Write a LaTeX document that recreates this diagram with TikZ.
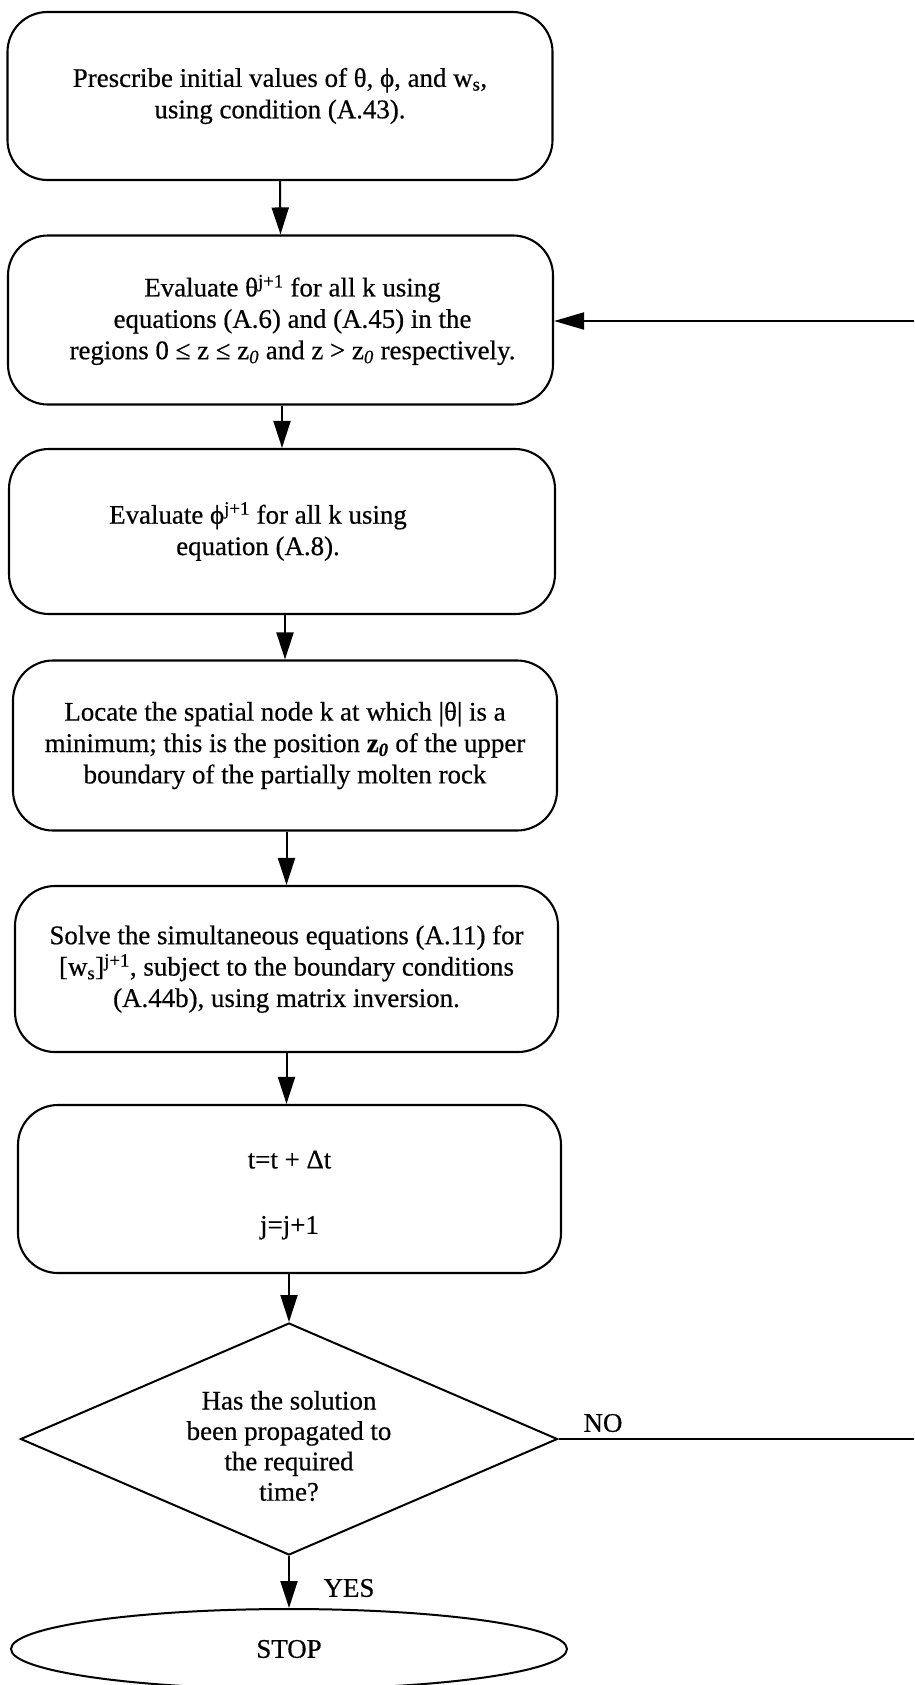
\documentclass[tikz,border=0pt]{standalone}
\usepackage{fontspec}
\setmainfont{Liberation Serif}[FakeBold=0.5]
\usetikzlibrary{arrows.meta,shapes.geometric}
\begin{document}
\begin{tikzpicture}[x=1bp,y=-1bp,
  every node/.style={font=\fontsize{27}{31.5}\selectfont},
  stepbox/.style={draw, line width=2.1bp, rounded corners=40bp, align=center, inner sep=0pt},
  flow/.style={line width=2bp, -{Triangle[length=27bp,width=17bp]}},
  backflow/.style={line width=2bp, -{Triangle[length=30bp,width=17bp]}},
  plain/.style={line width=2bp},
  decision/.style={draw, diamond, aspect=2.3, line width=2bp, align=center, inner sep=0pt,
    minimum width=537bp, minimum height=232bp},
  terminal/.style={draw, ellipse, line width=2bp, inner sep=0pt,
    minimum width=556bp, minimum height=80bp},
]
\path[use as bounding box] (0,0) rectangle (914,1685);

% process steps
\node[stepbox, minimum width=545bp, minimum height=168bp] (init) at (280,96)
  {Prescribe initial values of θ, ϕ, and w\textsubscript{s},\\ using condition (A.43).};

\node[stepbox, minimum width=545bp, minimum height=169bp] (theta) at (280.5,320)
  {\hspace*{24bp}Evaluate θ\textsuperscript{j+1} for all k using\\
   \hspace*{24bp}equations (A.6) and (A.45) in the\\
   \hspace*{24bp}regions 0 ≤ z ≤ z\textsubscript{\itshape 0} and z > z\textsubscript{\itshape 0} respectively.};

\node[stepbox, minimum width=546bp, minimum height=165bp] (phi) at (282,531.5)
  {Evaluate ϕ\textsuperscript{j+1} for all k using\hspace*{48bp}\\
   equation (A.8).\hspace*{48bp}};

\node[stepbox, minimum width=544bp, minimum height=170bp] (locate) at (285,745.5)
  {Locate the spatial node k at which |θ| is a\\
   minimum; this is the position \textbf{z}\textsubscript{\bfseries\itshape 0} of the upper\\
   boundary of the partially molten rock};

\node[stepbox, minimum width=543bp, minimum height=166bp] (solve) at (286.5,969)
  {Solve the simultaneous equations (A.11) for\\
   {[}w\textsubscript{s}]\textsuperscript{j+1}, subject to the boundary conditions\\
   (A.44b), using matrix inversion.};

\node[stepbox, minimum width=543bp, minimum height=168bp] (advance) at (289.5,1189)
  {\raisebox{-24bp}{\smash{\begin{tabular}{@{}c@{}}t=t + Δt\\[34bp] j=j+1\end{tabular}}}};

% decision and end
\node[decision] (check) at (289,1439)
  {\raisebox{-32bp}{\smash{\begin{tabular}{@{}c@{}}Has the solution\\[-1bp] been propagated to\\[-1bp] the required\\[-1bp] time?\end{tabular}}}};

\node[terminal] (stop) at (289,1649) {STOP};

% connectors
\draw[flow] (init.south) -- (theta.north);
\draw[flow] (theta.south -| phi.north) -- (phi.north);
\draw[flow] (phi.south -| locate.north) -- (locate.north);
\draw[flow] (locate.south -| solve.north) -- (solve.north);
\draw[flow] (solve.south) -- (advance.north -| solve.south);
\draw[flow] (advance.south -| check.north) -- (check.north);
\draw[flow] (check.south) -- (stop.north);

% return loop (continues beyond the right edge)
\coordinate (loopout) at (914,1439);
\coordinate (loopin) at (914,321);
\draw[plain] (check.east) -- (loopout);
\draw[backflow] (loopin) -- (theta.east |- loopin);

\node (no) at (603,1423) {NO};
\node (yes) at (349,1588) {YES};
\end{tikzpicture}
\end{document}
